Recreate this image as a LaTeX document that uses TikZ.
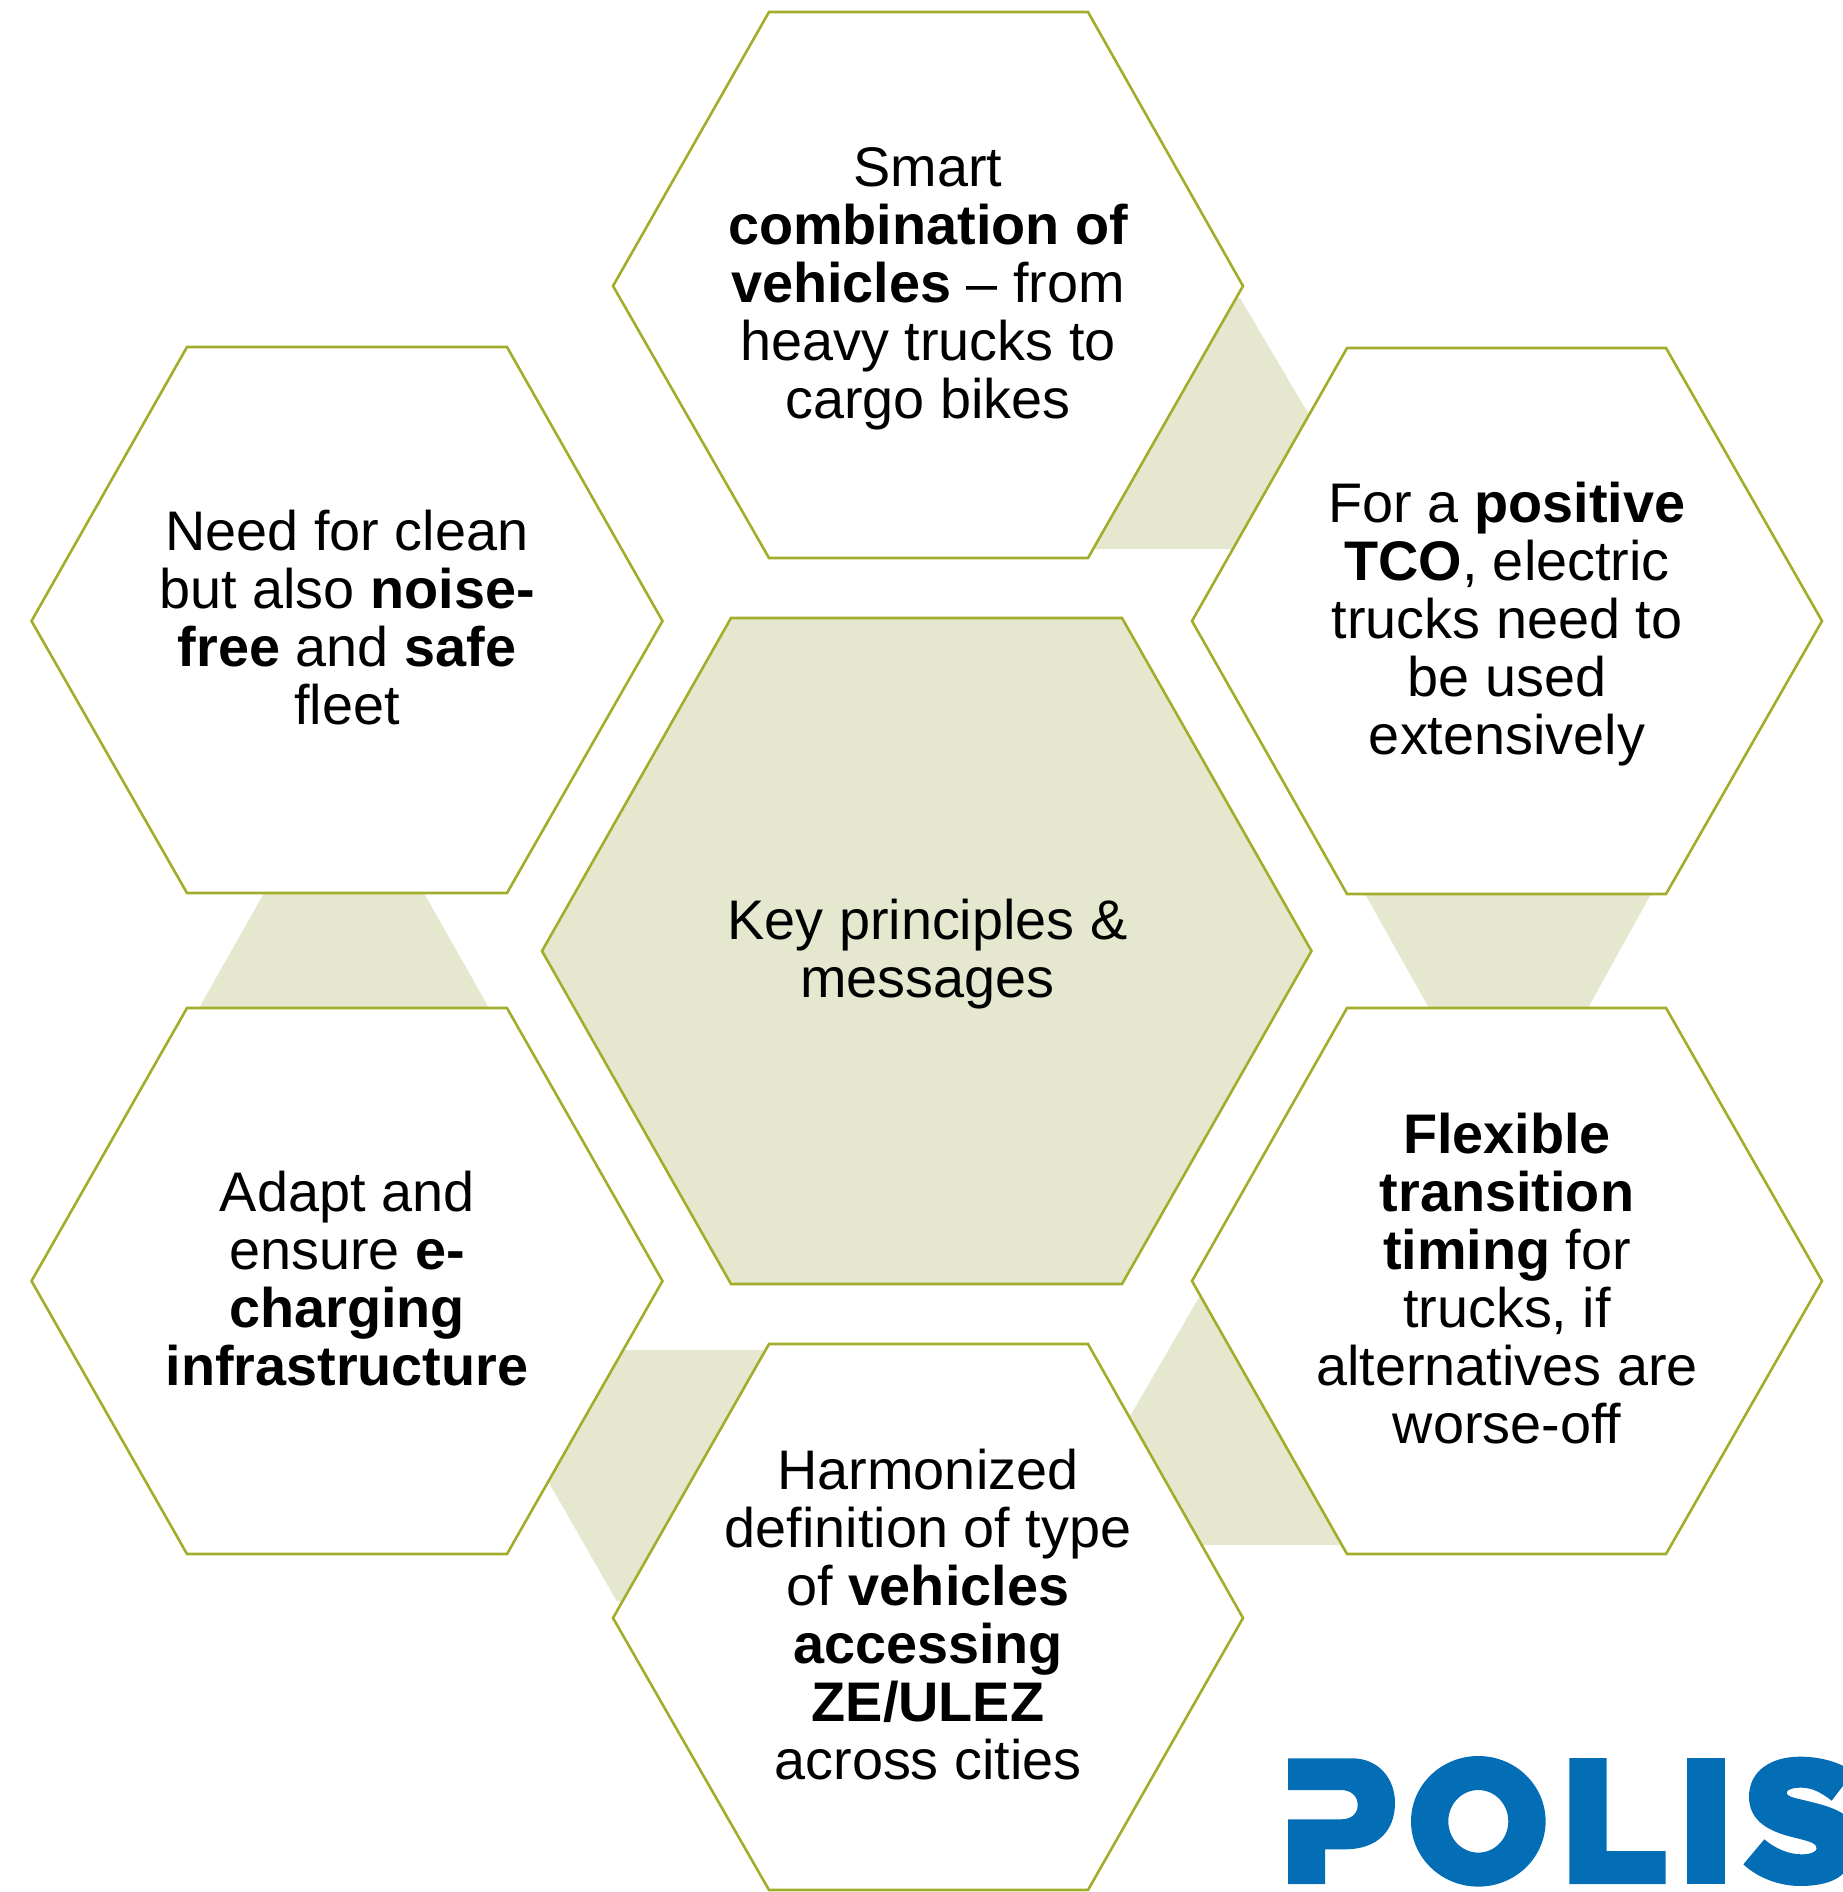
\documentclass[tikz,border=0pt]{standalone}
\usepackage{fontspec}
\setmainfont{Liberation Sans}
\definecolor{olive}{HTML}{A2AD2B}
\definecolor{pale}{HTML}{E5E8CF}
\definecolor{polis}{HTML}{036EB5}
\newcommand{\hexdraw}[8]{\draw[#1] (#2,#7) -- (#3,#6) -- (#4,#6) -- (#5,#7) -- (#4,#8) -- (#3,#8) -- cycle;}
\tikzset{
  hexw/.style={draw=olive,line width=1.3pt,line join=miter,fill=white},
  hexc/.style={draw=olive,line width=1.3pt,line join=miter,fill=pale},
  band/.style={fill=pale,draw=none},
  logo/.style={fill=polis,draw=none},
  label/.style={align=center,inner sep=0pt,font=\fontsize{27.9}{29}\selectfont,text=black}
}
\begin{document}
\begin{tikzpicture}[x=0.5pt,y=-0.5pt]
\useasboundingbox (0,0) rectangle (1843,1892);
% connecting bands (their inner edges run under the white hexagons)
\fill[band] (1240,298) -- (1308,413) -- (1320,413) -- (1245,549) -- (1080,549) -- (1225,298) -- cycle;
\fill[band] (1365,894) -- (1651,894) -- (1588,1008) -- (1429,1008) -- cycle;
\fill[band] (1199,1297.3) -- (1215,1297.3) -- (1360,1545) -- (1190,1545) -- (1120,1415) -- (1130.7,1415) -- cycle;
\fill[band] (615,1350) -- (780,1350) -- (635,1601) -- (616.7,1601) -- (549.3,1483.3) -- (540,1483.3) -- cycle;
\fill[band] (264,893) -- (424,893) -- (489,1008) -- (199,1008) -- cycle;
% hexagons
\hexdraw{hexc}{542}{731}{1122}{1311.5}{618}{951}{1284}
\hexdraw{hexw}{613}{769}{1088}{1243}{12}{286}{558}
\hexdraw{hexw}{1192}{1347}{1666}{1822}{348}{621}{894}
\hexdraw{hexw}{1192}{1347}{1666}{1822}{1008}{1281}{1554}
\hexdraw{hexw}{613}{769}{1088}{1243}{1344}{1618}{1890}
\hexdraw{hexw}{31.5}{187}{507}{662.5}{347}{621}{893}
\hexdraw{hexw}{31.5}{187}{507}{662.5}{1008}{1281}{1554}
% texts
\node[label] (centre) at (927.5,957) {\strut Key principles \&\\messages\strut};
\node[label] (top) at (928,291) {\strut Smart\\\textbf{combination of}\\\textbf{vehicles} – from\\heavy trucks to\\cargo bikes\strut};
\node[label] (ru) at (1507,626.5) {\strut For a \textbf{positive}\\\textbf{TCO}, electric\\trucks need to\\be used\\extensively\strut};
\node[label] (rl) at (1507,1287) {\strut\textbf{Flexible}\\\textbf{transition}\\\textbf{timing} for\\trucks, if\\alternatives are\\worse-off\strut};
\node[label] (bot) at (928,1623) {\strut Harmonized\\definition of type\\of \textbf{vehicles}\\\textbf{accessing}\\\textbf{ZE/ULEZ}\\across cities\strut};
\node[label] (lu) at (347,626) {\strut Need for clean\\but also \textbf{noise-}\\\textbf{free} and \textbf{safe}\\fleet\strut};
\node[label] (ll) at (347,1287) {\strut Adapt and\\ensure \textbf{e-}\\\textbf{charging}\\\textbf{infrastructure}\strut};
% logo
\begin{scope}
\clip (1240,1700) rectangle (1843,1892);
\fill[logo] (1288,1758.3) -- (1352,1758.3) .. controls (1378,1758.3) and (1395,1778) .. (1395,1803) .. controls (1395,1830) and (1378,1849.3) .. (1345,1849.3) -- (1325,1849.3) -- (1325,1884) -- (1288,1884) -- (1288,1819.3) -- (1341,1819.3) .. controls (1351,1819.3) and (1357.7,1814) .. (1357.7,1805) .. controls (1357.7,1796) and (1351,1790) .. (1341,1790) -- (1288,1790) -- cycle;
\fill[logo,even odd rule] (1478.3,1821.3) ellipse [x radius=67.3,y radius=65.3] (1478.3,1821.3) ellipse [x radius=30,y radius=31.3];
\fill[logo] (1569.3,1758) -- (1606.7,1758) -- (1606.7,1851) -- (1665.7,1851) -- (1665.7,1884) -- (1569.3,1884) -- cycle;
\fill[logo] (1686.7,1758) rectangle (1725,1884);
\begin{scope}[shift={(1580,1750)},xscale=0.3333,yscale=0.3333]
\fill[logo] (795,50) .. controls (755,30) and (710,20) .. (660,20) .. controls (570,20) and (507,65) .. (507,140) .. controls (507,215) and (570,245) .. (640,262) .. controls (690,274) and (710,280) .. (710,295) .. controls (710,306) and (690,313) .. (665,313) .. controls (625,313) and (585,295) .. (553,268) -- (490,343) .. controls (535,385) and (600,408) .. (660,408) .. controls (720,408) and (770,395) .. (795,365) -- (795,195) .. controls (760,170) and (710,160) .. (670,150) .. controls (635,142) and (620,138) .. (620,128) .. controls (620,118) and (640,113) .. (665,113) .. controls (695,113) and (725,128) .. (755,152) -- (795,100) -- cycle;
\end{scope}
\end{scope}
\end{tikzpicture}
\end{document}
